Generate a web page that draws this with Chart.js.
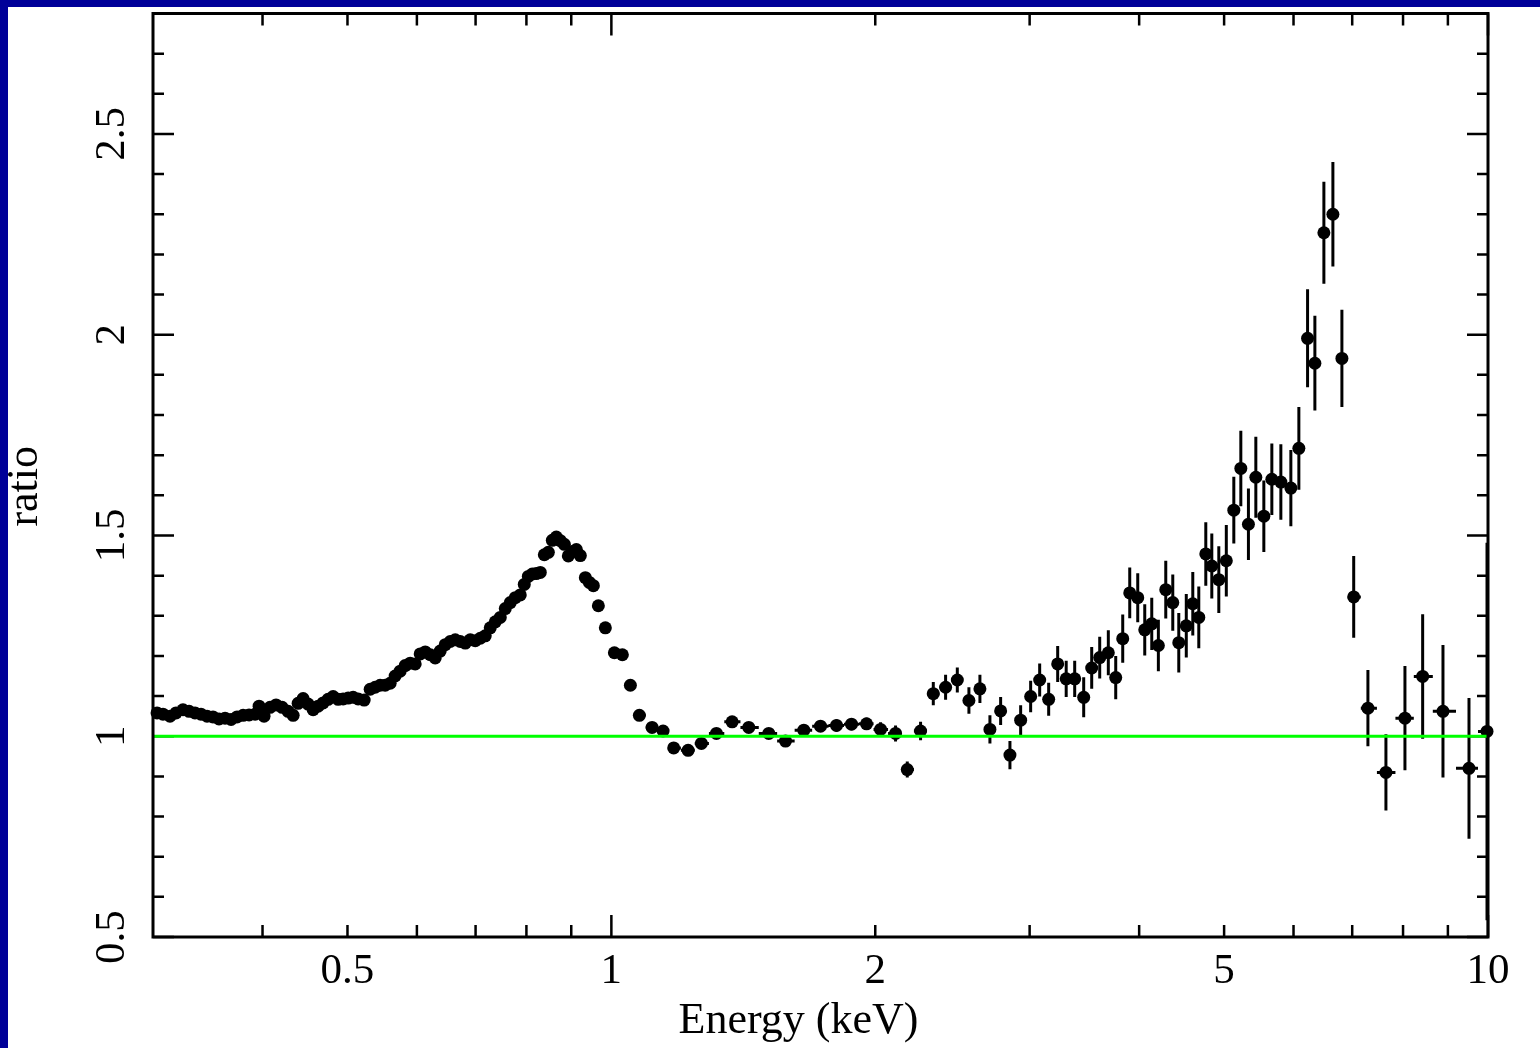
<!DOCTYPE html>
<html>
<head>
<meta charset="utf-8">
<script src="https://cdn.jsdelivr.net/npm/chart.js@4/dist/chart.umd.min.js"></script>
<style>
  html, body { margin: 0; padding: 0; background: #000099; width: 1540px; height: 1048px; overflow: hidden; }
  #panel { position: absolute; left: 8px; top: 7px; width: 1532px; height: 1041px; background: #fff; }
  canvas { display: block; }
</style>
</head>
<body>
<div id="panel"><canvas id="ratioChart" width="1532" height="1041"></canvas></div>
<script>
// bin centres (keV)
const energy = [
  0.3032, 0.3080, 0.3137, 0.3187, 0.3246, 0.3298, 0.3350, 0.3403, 0.3458, 0.3512,
  0.3568, 0.3625, 0.3683, 0.3741, 0.3801, 0.3861, 0.3923, 0.3964, 0.4016, 0.4080,
  0.4145, 0.4211, 0.4278, 0.4335, 0.4392, 0.4450, 0.4509, 0.4569, 0.4629, 0.4690,
  0.4752, 0.4815, 0.4879, 0.4943, 0.5009, 0.5075, 0.5142, 0.5224, 0.5307, 0.5377,
  0.5448, 0.5520, 0.5593, 0.5667, 0.5742, 0.5818, 0.5895, 0.5973, 0.6052, 0.6133,
  0.6214, 0.6296, 0.6379, 0.6464, 0.6549, 0.6636, 0.6724, 0.6813, 0.6903, 0.6994,
  0.7087, 0.7180, 0.7275, 0.7372, 0.7469, 0.7568, 0.7668, 0.7769, 0.7872, 0.7955,
  0.8040, 0.8125, 0.8210, 0.8297, 0.8385, 0.8474, 0.8563, 0.8654, 0.8745, 0.8838,
  0.8931, 0.9025, 0.9121, 0.9217, 0.9339, 0.9438, 0.9538, 0.9664, 0.9843, 1.0079,
  1.0293, 1.0512, 1.0763,
  1.1129, 1.1455, 1.1779, 1.2233, 1.2668, 1.3178, 1.3733, 1.4346, 1.5120, 1.5799,
  1.6577, 1.7321, 1.8065, 1.8791, 1.9547, 2.0280, 2.1095, 2.1754, 2.2528, 2.3293,
  2.4058, 2.4810, 2.5578, 2.6328, 2.7029, 2.7800, 2.8488, 2.9301, 3.0081, 3.0802,
  3.1539, 3.2294, 3.3024, 3.3770, 3.4578, 3.5313, 3.6064, 3.6888, 3.7613, 3.8311,
  3.9023, 3.9852, 4.0592, 4.1346, 4.2070, 4.2896, 4.3693, 4.4387, 4.5271, 4.6051,
  4.6783, 4.7652, 4.8410, 4.9309, 5.0290, 5.1291, 5.2244, 5.3298, 5.4345, 5.5500,
  5.6679, 5.8036, 5.9582, 6.0848,
  6.2256, 6.3462, 6.4981, 6.6537, 6.8130, 7.0276, 7.2949, 7.6483, 8.0400, 8.4229,
  8.8846, 9.5130, 9.9739
];

// data / model ratio
const ratio = [
  1.058, 1.055, 1.050, 1.058, 1.066, 1.062, 1.058, 1.055, 1.050, 1.048,
  1.043, 1.045, 1.042, 1.048, 1.052, 1.053, 1.055, 1.075, 1.050, 1.072,
  1.078, 1.072, 1.062, 1.052, 1.082, 1.094, 1.080, 1.066, 1.075, 1.083,
  1.092, 1.099, 1.092, 1.093, 1.095, 1.097, 1.093, 1.090, 1.117, 1.122,
  1.127, 1.127, 1.132, 1.150, 1.162, 1.176, 1.182, 1.180, 1.205, 1.210,
  1.203, 1.195, 1.212, 1.228, 1.236, 1.240, 1.236, 1.232, 1.240, 1.238,
  1.244, 1.250, 1.270, 1.285, 1.296, 1.318, 1.333, 1.345, 1.352, 1.378,
  1.398, 1.404, 1.405, 1.408, 1.452, 1.458, 1.488, 1.496, 1.487, 1.478,
  1.449, 1.460, 1.465, 1.450, 1.395, 1.383, 1.375, 1.325, 1.270, 1.208,
  1.203, 1.127, 1.052,
  1.022, 1.013, 0.971, 0.965, 0.982, 1.007, 1.036, 1.022, 1.007, 0.988,
  1.015, 1.025, 1.027, 1.030, 1.031, 1.017, 1.007, 0.917, 1.013, 1.106,
  1.122, 1.140, 1.089, 1.118, 1.017, 1.063, 0.953, 1.040, 1.099, 1.140,
  1.092, 1.180, 1.143, 1.143, 1.097, 1.170, 1.196, 1.208, 1.146, 1.243,
  1.357, 1.345, 1.265, 1.280, 1.226, 1.365, 1.333, 1.233, 1.275, 1.330,
  1.296, 1.454, 1.424, 1.390, 1.437, 1.563, 1.667, 1.528, 1.645, 1.548,
  1.640, 1.633, 1.618, 1.717,
  1.991, 1.929, 2.254, 2.300, 1.941, 1.347, 1.070, 0.910, 1.045, 1.149,
  1.062, 0.920, 1.012
];

// 1-sigma errors on the ratio
const ratioErr = [
  0.008, 0.008, 0.008, 0.008, 0.008, 0.008, 0.008, 0.008, 0.008, 0.008,
  0.008, 0.008, 0.008, 0.008, 0.008, 0.008, 0.008, 0.008, 0.008, 0.008,
  0.008, 0.008, 0.008, 0.008, 0.008, 0.008, 0.008, 0.008, 0.008, 0.008,
  0.008, 0.008, 0.008, 0.008, 0.008, 0.008, 0.008, 0.008, 0.008, 0.008,
  0.008, 0.008, 0.008, 0.008, 0.008, 0.008, 0.008, 0.008, 0.008, 0.008,
  0.008, 0.008, 0.008, 0.008, 0.008, 0.008, 0.008, 0.008, 0.008, 0.008,
  0.009, 0.009, 0.009, 0.009, 0.009, 0.009, 0.009, 0.009, 0.009, 0.009,
  0.009, 0.009, 0.009, 0.009, 0.009, 0.009, 0.009, 0.009, 0.009, 0.009,
  0.010, 0.010, 0.010, 0.010, 0.010, 0.010, 0.010, 0.010, 0.010, 0.010,
  0.010, 0.010, 0.010,
  0.012, 0.012, 0.012, 0.012, 0.012, 0.012, 0.013, 0.013, 0.013, 0.014,
  0.014, 0.014, 0.015, 0.015, 0.015, 0.018, 0.020, 0.020, 0.023, 0.029,
  0.031, 0.031, 0.033, 0.035, 0.035, 0.035, 0.035, 0.037, 0.039, 0.041,
  0.041, 0.045, 0.045, 0.045, 0.050, 0.052, 0.052, 0.056, 0.054, 0.060,
  0.063, 0.061, 0.064, 0.065, 0.064, 0.072, 0.070, 0.074, 0.079, 0.079,
  0.077, 0.079, 0.081, 0.083, 0.089, 0.083, 0.094, 0.089, 0.101, 0.089,
  0.089, 0.094, 0.095, 0.103,
  0.122, 0.118, 0.127, 0.130, 0.121, 0.102, 0.095, 0.095, 0.130, 0.155,
  0.165, 0.175, 0.470
];

const xRange = [0.3, 10];
const yRange = [0.5, 2.8];
const modelRatio = 1;

const xLabelTicks = [0.5, 1, 2, 5, 10];
const xMajorTicks = [1, 10];
const xMinorTicks = [0.4, 0.5, 0.6, 0.7, 0.8, 0.9, 2, 3, 4, 5, 6, 7, 8, 9];
const yLabelTicks = [0.5, 1, 1.5, 2, 2.5];
const yMinorTicks = [0.6, 0.7, 0.8, 0.9, 1.1, 1.2, 1.3, 1.4, 1.6, 1.7, 1.8, 1.9,
                     2.1, 2.2, 2.3, 2.4, 2.6, 2.7];

const SERIF = '"Liberation Serif", "Times New Roman", serif';

// inward ticks on all four sides, drawn under the data and the model line
const tickMarks = {
  id: 'tickMarks',
  beforeDatasetsDraw(chart) {
    const { ctx, chartArea: a, scales: { x, y } } = chart;
    ctx.save();
    ctx.strokeStyle = '#000';
    ctx.lineWidth = 2.5;
    ctx.beginPath();
    const xTick = (v, len) => {
      const p = x.getPixelForValue(v);
      ctx.moveTo(p, a.bottom); ctx.lineTo(p, a.bottom - len);
      ctx.moveTo(p, a.top); ctx.lineTo(p, a.top + len);
    };
    const yTick = (v, len) => {
      const p = y.getPixelForValue(v);
      ctx.moveTo(a.left, p); ctx.lineTo(a.left + len, p);
      ctx.moveTo(a.right, p); ctx.lineTo(a.right - len, p);
    };
    xMinorTicks.forEach(v => xTick(v, 12));
    xMajorTicks.forEach(v => xTick(v, 22));
    yMinorTicks.forEach(v => yTick(v, 11));
    yLabelTicks.forEach(v => yTick(v, 21));
    ctx.stroke();
    ctx.restore();
  }
};

// vertical errors + bin widths (bins are contiguous, edges at log midpoints)
const errorBars = {
  id: 'errorBars',
  beforeDatasetsDraw(chart) {
    const { ctx, chartArea: a, scales: { x, y } } = chart;
    ctx.save();
    ctx.beginPath();
    ctx.rect(a.left, a.top, a.right - a.left, a.bottom - a.top);
    ctx.clip();
    ctx.strokeStyle = '#000';
    ctx.lineWidth = 3;
    ctx.beginPath();
    energy.forEach((e, i) => {
      const prev = i > 0 ? energy[i - 1] : e * e / energy[i + 1];
      const next = i < energy.length - 1 ? energy[i + 1] : e * e / energy[i - 1];
      const px = x.getPixelForValue(e);
      const py = y.getPixelForValue(ratio[i]);
      ctx.moveTo(x.getPixelForValue(Math.sqrt(prev * e)), py);
      ctx.lineTo(x.getPixelForValue(Math.sqrt(next * e)), py);
      ctx.moveTo(px, y.getPixelForValue(ratio[i] - ratioErr[i]));
      ctx.lineTo(px, y.getPixelForValue(ratio[i] + ratioErr[i]));
    });
    ctx.stroke();
    ctx.restore();
  }
};

// plot box
const frame = {
  id: 'frame',
  afterDatasetsDraw(chart) {
    const { ctx, chartArea: a } = chart;
    ctx.save();
    ctx.strokeStyle = '#000';
    ctx.lineWidth = 3;
    ctx.strokeRect(a.left, a.top, a.right - a.left, a.bottom - a.top);
    ctx.restore();
  }
};

new Chart(document.getElementById('ratioChart'), {
  type: 'scatter',
  data: {
    datasets: [
      {
        type: 'line',
        data: [{ x: xRange[0], y: modelRatio }, { x: xRange[1], y: modelRatio }],
        borderColor: '#00ff00',
        borderWidth: 3,
        pointRadius: 0
      },
      {
        data: energy.map((e, i) => ({ x: e, y: ratio[i] })),
        pointRadius: 6.5,
        pointBackgroundColor: '#000',
        pointBorderWidth: 0,
        clip: false
      }
    ]
  },
  options: {
    responsive: false,
    animation: false,
    events: [],
    layout: { padding: { left: 0, top: 5, right: 52, bottom: 0 } },
    plugins: { legend: { display: false }, tooltip: { enabled: false } },
    scales: {
      x: {
        type: 'logarithmic',
        min: xRange[0],
        max: xRange[1],
        grid: { display: false, drawTicks: false },
        border: { display: false },
        afterBuildTicks: s => { s.ticks = xLabelTicks.map(v => ({ value: v })); },
        afterFit: s => { s.height = 111; s.paddingLeft = 0; s.paddingRight = 0; },
        ticks: {
          color: '#000',
          font: { family: SERIF, size: 43 },
          padding: 9,
          autoSkip: false,
          maxRotation: 0,
          callback: v => String(v)
        },
        title: {
          display: true,
          text: 'Energy (keV)\u2003',
          color: '#000',
          font: { family: SERIF, size: 44 },
          padding: 0
        }
      },
      y: {
        min: yRange[0],
        max: yRange[1],
        grid: { display: false, drawTicks: false },
        border: { display: false },
        afterBuildTicks: s => { s.ticks = yLabelTicks.map(v => ({ value: v })); },
        afterFit: s => { s.width = 145; s.paddingTop = 0; s.paddingBottom = 0; },
        ticks: {
          color: '#000',
          font: { family: SERIF, size: 43 },
          padding: 13,
          minRotation: 90,
          maxRotation: 90,
          crossAlign: 'center',
          autoSkip: false,
          callback: v => String(v)
        },
        title: {
          display: true,
          text: 'ratio\u2002',
          color: '#000',
          font: { family: SERIF, size: 44, lineHeight: 0.8 },
          padding: 0
        }
      }
    }
  },
  plugins: [tickMarks, errorBars, frame]
});
</script>
</body>
</html>
